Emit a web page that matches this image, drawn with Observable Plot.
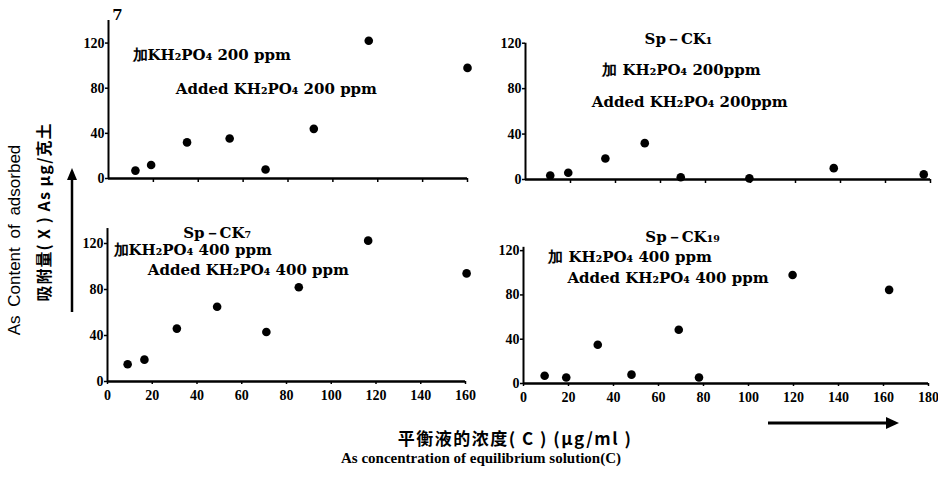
<!DOCTYPE html>
<html><head><meta charset="utf-8">
<script src="https://cdn.jsdelivr.net/npm/d3@7"></script>
<script src="https://cdn.jsdelivr.net/npm/@observablehq/plot@0.6"></script>
<style>
body{margin:0;background:#fff;}
#wrap{position:relative;width:938px;height:477px;overflow:hidden;font-family:"Liberation Serif",serif;color:#000;}
.p{position:absolute;}
.p svg{overflow:visible;}
.lab{position:absolute;white-space:nowrap;font-weight:bold;}
</style></head><body><div id="wrap"></div>
<script>
// ---- data (x = equilibrium concentration µg/ml, y = adsorbed µg/g soil) ----
const tlX = [12, 19, 35, 54, 70, 91.5, 116, 160];
const tlY = [7, 12, 32, 35.5, 8, 44, 122, 98];
const trX = [11, 19, 35.5, 53, 69, 99.5, 137, 177];
const trY = [3.5, 6, 18.5, 32, 2, 1, 10, 4.5];
const blX = [9, 16.5, 31, 49, 71, 85.5, 116.5, 160.5];
const blY = [15, 19, 46, 65, 43, 82, 122.5, 94];
const brX = [9.4, 19, 33, 48, 69, 78, 119.6, 162.5];
const brY = [7, 5.4, 35, 8, 48.6, 5.4, 98, 84.6];

const yTicks = [0, 40, 80, 120];
const xTicksLeft = [0, 20, 40, 60, 80, 100, 120, 140, 160];
const xTicksRight = [0, 20, 40, 60, 80, 100, 120, 140, 160, 180];

// annotation texts (x, y in data units of each panel)
const tlNotes = [
  {t: "7", x: 4, y: 145, a: "middle"},
  {t: "加KH₂PO₄ 200 ppm", x: 10.7, y: 109, a: "start"},
  {t: "Added KH₂PO₄ 200 ppm", x: 30, y: 79, a: "start"}
];
const trNotes = [
  {t: "Sp－CK₁", x: 68, y: 123.5, a: "middle"},
  {t: "加 KH₂PO₄ 200ppm", x: 69.3, y: 96, a: "middle"},
  {t: "Added KH₂PO₄ 200ppm", x: 73, y: 68, a: "middle"}
];
const blNotes = [
  {t: "Sp－CK₇", x: 49, y: 129, a: "middle"},
  {t: "加KH₂PO₄ 400 ppm", x: 2.7, y: 114, a: "start"},
  {t: "Added KH₂PO₄ 400 ppm", x: 18, y: 96.5, a: "start"}
];
const brNotes = [
  {t: "Sp－CK₁₉", x: 70.7, y: 132, a: "middle"},
  {t: "加 KH₂PO₄ 400 ppm", x: 11, y: 114, a: "start"},
  {t: "Added KH₂PO₄ 400 ppm", x: 19.5, y: 95, a: "start"}
];

const wrap = document.getElementById("wrap");
const FONT = "Liberation Serif";
const NOTEFONT = "DejaVu Serif";

function panel(o) {
  const data = o.xs.map((x, i) => ({x, y: o.ys[i]}));
  const textMark = (anchor) => Plot.text(o.notes.filter(d => d.a === anchor), {
    x: "x", y: "y", text: "t", textAnchor: anchor, fontSize: 15, fontWeight: "bold",
    fontFamily: NOTEFONT, fill: "black"
  });
  const chart = Plot.plot({
    width: o.width, height: o.height,
    marginLeft: o.ml, marginRight: o.mr, marginTop: o.mt, marginBottom: o.mb,
    x: {domain: [0, o.xmax], label: null},
    y: {domain: [0, 140], label: null},
    style: {fontFamily: FONT, background: "transparent", color: "black"},
    marks: [
      Plot.axisY({ticks: yTicks, tickSize: 3, tickPadding: 1, fontSize: 14, fontWeight: "bold",
        strokeWidth: 1.5, label: null}),
      Plot.axisX({ticks: o.xticks.filter(d => o.labels || d > 0), tickSize: o.labels ? 3 : 4,
        tickPadding: 6, fontSize: 14, fontWeight: "bold", strokeWidth: 1.5, label: null,
        tickFormat: o.labels ? (d => d) : (() => "")}),
      Plot.ruleX([0], {y1: 0, y2: o.yAxisTop, strokeWidth: 2}),
      Plot.ruleY([0], {x1: 0, x2: o.xmax, strokeWidth: 2.5}),
      Plot.dot(data, {x: "x", y: "y", r: 4.3, fill: "black"}),
      textMark("start"),
      textMark("middle")
    ]
  });
  const d = document.createElement("div");
  d.className = "p";
  d.style.left = o.left + "px";
  d.style.top = o.top + "px";
  d.appendChild(chart);
  wrap.appendChild(d);
}

panel({left: 0, top: 0, width: 475, height: 195, ml: 108, mr: 8, mt: 20, mb: 17,
  xmax: 160, yAxisTop: 140, xs: tlX, ys: tlY, xticks: xTicksLeft, labels: false, notes: tlNotes});
panel({left: 470, top: 0, width: 468, height: 195, ml: 55, mr: 8, mt: 20, mb: 16,
  xmax: 180, yAxisTop: 120, xs: trX, ys: trY, xticks: xTicksRight, labels: false, notes: trNotes});
panel({left: 0, top: 200, width: 475, height: 215, ml: 107, mr: 10, mt: 20, mb: 34,
  xmax: 160, yAxisTop: 133, xs: blX, ys: blY, xticks: xTicksLeft, labels: true, notes: blNotes});
panel({left: 470, top: 200, width: 468, height: 215, ml: 53, mr: 10, mt: 28, mb: 32,
  xmax: 180, yAxisTop: 123, xs: brX, ys: brY, xticks: xTicksRight, labels: true, notes: brNotes});

// axis titles
function label(text, css) {
  const d = document.createElement("div");
  d.className = "lab";
  d.textContent = text;
  Object.assign(d.style, css);
  wrap.appendChild(d);
}
label("As Content of adsorbed", {left: "15px", top: "240px", fontFamily: "Liberation Sans", fontWeight: "normal",
  fontSize: "17px", wordSpacing: "4px", transform: "translate(-50%,-50%) rotate(-90deg)"});
label("吸附量( X ) As μg/克土", {left: "43px", top: "212px", fontFamily: "Noto Sans CJK SC", fontSize: "16px",
  letterSpacing: "1px", transform: "translate(-50%,-50%) rotate(-90deg)"});
label("平衡液的浓度( C ) (μg/ml )", {left: "515px", top: "437px", fontFamily: "Noto Sans CJK SC", fontSize: "17px",
  letterSpacing: "1.5px", transform: "translate(-50%,-50%)"});
label("As concentration of equilibrium solution(C)", {left: "481px", top: "458px", fontFamily: FONT, fontSize: "15px",
  transform: "translate(-50%,-50%)"});

// decorative arrows
const ns = "http://www.w3.org/2000/svg";
const svg = document.createElementNS(ns, "svg");
svg.setAttribute("width", 938); svg.setAttribute("height", 477);
svg.style.position = "absolute"; svg.style.left = "0"; svg.style.top = "0"; svg.style.pointerEvents = "none";
svg.innerHTML = `
  <line x1="72" y1="312" x2="72" y2="176" stroke="black" stroke-width="2.5"/>
  <path d="M72,168 L67,180 L77,180 Z" fill="black"/>
  <line x1="768" y1="423" x2="890" y2="423" stroke="black" stroke-width="3"/>
  <path d="M899,423 L886,417 L886,429 Z" fill="black"/>`;
wrap.appendChild(svg);
</script>
</body></html>
